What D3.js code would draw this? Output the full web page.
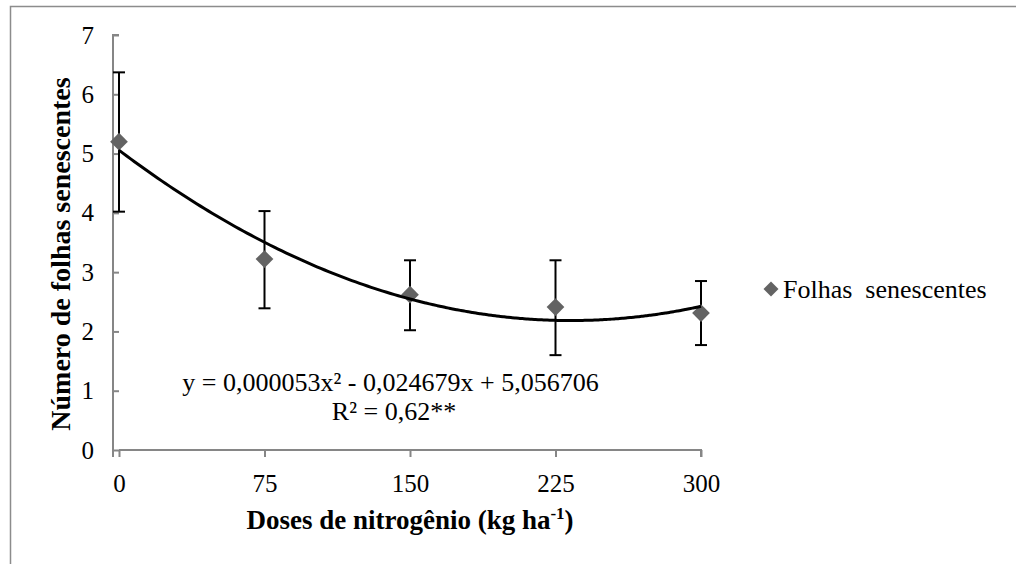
<!DOCTYPE html>
<html><head><meta charset="utf-8">
<script src="https://cdn.jsdelivr.net/npm/d3@7/dist/d3.min.js"></script>
<style>
html,body{margin:0;padding:0;background:#fff;}
svg{display:block;}
</style></head>
<body>
<svg id="chart" width="1016" height="564" font-family="Liberation Serif, Times New Roman, serif"></svg>
<script>
const doses = [0, 75, 150, 225, 300];
const means = [5.2, 3.22, 2.62, 2.41, 2.31];
const upper = [6.37, 4.03, 3.2, 3.2, 2.85];
const lower = [4.02, 2.39, 2.02, 1.6, 1.77];
const xTicks = [0, 75, 150, 225, 300];
const yTicks = [0, 1, 2, 3, 4, 5, 6, 7];
const trendCoef = [5.056706, -0.024679, 0.000053]; // c0 + c1 x + c2 x^2
const seriesName = "Folhas  senescentes";
const eqText1 = "y = 0,000053x² - 0,024679x + 5,056706";
const eqText2 = "R² = 0,62**";

const FONT = "Liberation Serif, Times New Roman, serif";
const svg = d3.select("#chart");
const x = d3.scaleLinear().domain([0, 300]).range([119, 701]);
const y = d3.scaleLinear().domain([0, 7]).range([450, 35]);
const axisColor = "#868686";

// outer border
svg.append("rect").attr("x", 10.5).attr("y", 6.5).attr("width", 1016).attr("height", 600)
  .attr("fill", "none").attr("stroke", "#8c8c8c").attr("stroke-width", 1.5);

// axes
const yAxis = svg.append("g").attr("transform", `translate(${x(0)},0)`)
  .call(d3.axisLeft(y).tickValues(yTicks).tickFormat(d3.format("d")).tickSize(6).tickPadding(19));
const xAxis = svg.append("g").attr("transform", `translate(0,${y(0)})`)
  .call(d3.axisBottom(x).tickValues(xTicks).tickFormat(d3.format("d")).tickSize(7).tickPadding(17));
[xAxis, yAxis].forEach(g => {
  g.attr("font-family", FONT).attr("font-size", 25);
  g.selectAll("path").attr("stroke", axisColor).attr("stroke-width", 2);
  g.selectAll("line").attr("stroke", axisColor).attr("stroke-width", 2);
  g.selectAll("text").attr("fill", "#000");
});
yAxis.select(".domain").attr("d", `M0,${y(7)}H-6V${y(0)+7}`);
xAxis.select(".domain").attr("d", `M${x(0)},0H${x(300)}V7`);

// error bars
const eb = svg.append("g").attr("stroke", "#000").attr("stroke-width", 2);
doses.forEach((d, i) => {
  const cx = x(d);
  eb.append("line").attr("x1", cx).attr("x2", cx).attr("y1", y(upper[i])).attr("y2", y(lower[i]));
  eb.append("line").attr("x1", cx - 6).attr("x2", cx + 6).attr("y1", y(upper[i])).attr("y2", y(upper[i]));
  eb.append("line").attr("x1", cx - 6).attr("x2", cx + 6).attr("y1", y(lower[i])).attr("y2", y(lower[i]));
});

// markers
const diamond = d3.symbol().type(d3.symbolDiamond2).size(200);
svg.append("g").selectAll("path").data(doses).join("path")
  .attr("d", diamond)
  .attr("transform", (d, i) => `translate(${x(d)},${y(means[i])})`)
  .attr("fill", "#636363");

// trendline
const trendX = d3.range(0, 300.1, 2);
const f = v => trendCoef[0] + trendCoef[1] * v + trendCoef[2] * v * v;
svg.append("path").datum(trendX)
  .attr("d", d3.line().x(d => x(d)).y(d => y(f(d))).curve(d3.curveMonotoneX))
  .attr("fill", "none").attr("stroke", "#000").attr("stroke-width", 3);

// equation
svg.append("text").attr("x", 390.5).attr("y", 391).attr("text-anchor", "middle")
  .attr("font-size", 26).text(eqText1);
svg.append("text").attr("x", 394).attr("y", 420).attr("text-anchor", "middle")
  .attr("font-size", 26).text(eqText2);

// legend
svg.append("path").attr("d", d3.symbol().type(d3.symbolDiamond2).size(144))
  .attr("transform", "translate(771,289)").attr("fill", "#636363");
svg.append("text").attr("x", 783).attr("y", 298).attr("font-size", 26)
  .attr("xml:space", "preserve").style("white-space", "pre").text(seriesName);

// axis titles
svg.append("text").attr("transform", "translate(70,254) rotate(-90)")
  .attr("text-anchor", "middle").attr("font-size", 28).attr("font-weight", "bold")
  .text("Número de folhas senescentes");
const xt = svg.append("text").attr("x", 410).attr("y", 529).attr("text-anchor", "middle")
  .attr("font-size", 27).attr("font-weight", "bold");
xt.append("tspan").text("Doses de nitrogênio (kg ha");
xt.append("tspan").attr("dy", -10).attr("font-size", 17).text("-1");
xt.append("tspan").attr("dy", 10).text(")");
</script>
</body></html>
